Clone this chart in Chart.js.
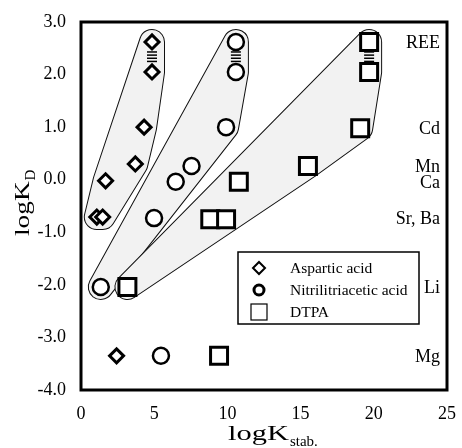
<!DOCTYPE html>
<html>
<head>
<meta charset="utf-8">
<script src="https://cdn.jsdelivr.net/npm/chart.js@4.4.0/dist/chart.umd.min.js"></script>
<style>
  html, body { margin: 0; padding: 0; background: #fff; }
</style>
</head>
<body>
<canvas id="chart" width="462" height="448"></canvas>
<script>
// values: x = logK stab., y = logK D
const aspX = [4.85, 4.85, 4.31, 3.71, 1.68, 1.08, 1.48, 2.43]
const aspY = [2.62, 2.05, 1.00, 0.30, -0.02, -0.71, -0.71, -3.35]
const aspEl = ['REE', 'REE', 'Cd', 'Mn', 'Ca', 'Sr', 'Ba', 'Mg']

const ntaX = [10.58, 10.58, 9.91, 7.55, 6.47, 4.99, 1.35, 5.46]
const ntaY = [2.62, 2.05, 1.00, 0.26, -0.04, -0.73, -2.04, -3.35]
const ntaEl = ['REE', 'REE', 'Cd', 'Mn', 'Ca', 'Sr', 'Li', 'Mg']

const dtpaX = [19.68, 19.68, 19.07, 15.5, 10.78, 8.83, 9.91, 3.17, 9.43]
const dtpaY = [2.62, 2.05, 0.98, 0.26, -0.04, -0.75, -0.75, -2.04, -3.35]
const dtpaEl = ['REE', 'REE', 'Cd', 'Mn', 'Ca', 'Sr', 'Ba', 'Li', 'Mg']

// the other REE, squeezed between the two end members
const reeMidY = [2.43, 2.37, 2.31, 2.25]

// element names down the right side
const elemLabels = ['REE', 'Cd', 'Mn', 'Ca', 'Sr, Ba', 'Li', 'Mg']
const elemY = [2.62, 0.98, 0.26, -0.04, -0.73, -2.04, -3.35]

const seriesNames = ['Aspartic acid', 'Nitrilitriacetic acid', 'DTPA']

const SERIF = '"Liberation Serif", "Times New Roman", serif'

function pts(xs, ys) {
  return xs.map((x, i) => ({ x: x, y: ys[i] }))
}

function midBars(x) {
  return reeMidY.map(y => ({ x: x, y: y }))
}

const datasets = [
  { label: seriesNames[0], data: pts(aspX, aspY), elements: aspEl, group: true,
    pointStyle: 'rectRot', pointRadius: 7, borderWidth: 3 },
  { label: seriesNames[1], data: pts(ntaX, ntaY), elements: ntaEl, group: true,
    pointStyle: 'circle', pointRadius: 8, borderWidth: 2.5 },
  { label: seriesNames[2], data: pts(dtpaX, dtpaY), elements: dtpaEl, group: true,
    pointStyle: 'rect', pointRadius: 12, borderWidth: 3 },
  { label: 'ree-a', data: midBars(aspX[0]), pointStyle: 'line', pointRadius: 5, borderWidth: 1.5 },
  { label: 'ree-n', data: midBars(ntaX[0]), pointStyle: 'line', pointRadius: 5, borderWidth: 1.5 },
  { label: 'ree-d', data: midBars(dtpaX[0]), pointStyle: 'line', pointRadius: 5, borderWidth: 1.5 }
]
datasets.forEach(d => {
  d.borderColor = '#000'
  d.backgroundColor = '#fff'
  d.pointHoverRadius = d.pointRadius
})

// convex hull (monotone chain) of pixel points
function hull(p) {
  p = p.slice().sort((a, b) => a.x - b.x || a.y - b.y)
  const cross = (o, a, b) => (a.x - o.x) * (b.y - o.y) - (a.y - o.y) * (b.x - o.x)
  const lower = [], upper = []
  p.forEach(q => {
    while (lower.length >= 2 && cross(lower[lower.length - 2], lower[lower.length - 1], q) <= 0) lower.pop()
    lower.push(q)
  })
  p.slice().reverse().forEach(q => {
    while (upper.length >= 2 && cross(upper[upper.length - 2], upper[upper.length - 1], q) <= 0) upper.pop()
    upper.push(q)
  })
  return lower.slice(0, -1).concat(upper.slice(0, -1))
}

// grey rounded envelopes around each complexing agent (Mg left out)
const envelopes = {
  id: 'envelopes',
  beforeDatasetsDraw(chart) {
    const ctx = chart.ctx
    const R = 12
    ctx.save()
    chart.data.datasets.forEach((ds, i) => {
      if (!ds.group) return
      const meta = chart.getDatasetMeta(i)
      const p = meta.data.filter((el, j) => ds.elements[j] !== 'Mg').map(el => ({ x: el.x, y: el.y }))
      const h = hull(p)
      const path = () => {
        ctx.beginPath()
        h.forEach((q, k) => k ? ctx.lineTo(q.x, q.y) : ctx.moveTo(q.x, q.y))
        ctx.closePath()
      }
      ctx.lineJoin = 'round'
      path()
      ctx.lineWidth = 2 * R + 2
      ctx.strokeStyle = '#111'
      ctx.fillStyle = '#111'
      ctx.stroke()
      ctx.fill()
      path()
      ctx.lineWidth = 2 * R
      ctx.strokeStyle = '#f2f2f2'
      ctx.fillStyle = '#f2f2f2'
      ctx.stroke()
      ctx.fill()
    })
    ctx.restore()
  }
}

// frame, element names, legend box and axis titles
const decor = {
  id: 'decor',
  afterDraw(chart) {
    const ctx = chart.ctx
    const a = chart.chartArea
    const ys = chart.scales.y
    ctx.save()
    ctx.strokeStyle = '#000'
    ctx.lineWidth = 3
    ctx.strokeRect(a.left, a.top, a.right - a.left, a.bottom - a.top)

    ctx.fillStyle = '#000'
    ctx.font = '18px ' + SERIF
    ctx.textAlign = 'right'
    ctx.textBaseline = 'middle'
    elemLabels.forEach((t, i) => {
      ctx.fillText(t, a.right - 7, ys.getPixelForValue(elemY[i]) + 1)
    })

    // legend
    const lx = a.left + 157, ly = a.top + 230
    ctx.lineWidth = 1.5
    ctx.strokeRect(lx, ly, 181, 72)
    ctx.font = '15.5px ' + SERIF
    ctx.textAlign = 'left'
    const mx = lx + 21
    // diamond
    let y = ly + 16
    ctx.lineWidth = 2
    ctx.beginPath()
    ctx.moveTo(mx, y - 6); ctx.lineTo(mx + 6, y); ctx.lineTo(mx, y + 6); ctx.lineTo(mx - 6, y); ctx.closePath()
    ctx.stroke()
    ctx.fillText(seriesNames[0], lx + 52, y + 1)
    // circle
    y = ly + 38
    ctx.lineWidth = 3
    ctx.beginPath()
    ctx.arc(mx, y, 5, 0, Math.PI * 2)
    ctx.stroke()
    ctx.fillText(seriesNames[1], lx + 52, y + 1)
    // square
    y = ly + 60
    ctx.lineWidth = 1.2
    ctx.strokeRect(mx - 8, y - 8, 16, 16)
    ctx.fillText(seriesNames[2], lx + 52, y + 1)

    // x title: logK with subscript stab.
    ctx.textBaseline = 'alphabetic'
    ctx.save()
    ctx.translate(228, 440)
    ctx.scale(1.45, 1)
    ctx.font = '21px ' + SERIF
    ctx.fillText('logK', 0, 0)
    const w = ctx.measureText('logK').width * 1.45
    ctx.restore()
    ctx.font = '15px ' + SERIF
    ctx.fillText('stab.', 228 + w + 1, 446)

    // y title: logK with subscript D, rotated
    ctx.save()
    ctx.translate(29, 236)
    ctx.rotate(-Math.PI / 2)
    ctx.save()
    ctx.scale(1.3, 1)
    ctx.font = '21px ' + SERIF
    ctx.fillText('logK', 0, 0)
    const w2 = ctx.measureText('logK').width * 1.3
    ctx.restore()
    ctx.font = '15px ' + SERIF
    ctx.fillText('D', w2 + 1, 6)
    ctx.restore()

    ctx.restore()
  }
}

new Chart(document.getElementById('chart'), {
  type: 'scatter',
  data: { datasets: datasets },
  options: {
    responsive: false,
    animation: false,
    layout: { padding: { top: 22, right: 10, left: 0, bottom: 0 } },
    plugins: { legend: { display: false }, tooltip: { enabled: false } },
    scales: {
      x: {
        min: 0, max: 25,
        grid: { display: false },
        border: { display: false },
        ticks: { stepSize: 5, padding: 5, color: '#000', font: { family: SERIF, size: 18 } },
        afterFit(s) { s.height = 58 }
      },
      y: {
        min: -4, max: 3,
        grid: { display: false },
        border: { display: false },
        ticks: { stepSize: 1, padding: 7, color: '#000', font: { family: SERIF, size: 18 },
          callback: v => v.toFixed(1) },
        afterFit(s) { s.width = 81 }
      }
    }
  },
  plugins: [envelopes, decor]
})
</script>
</body>
</html>
